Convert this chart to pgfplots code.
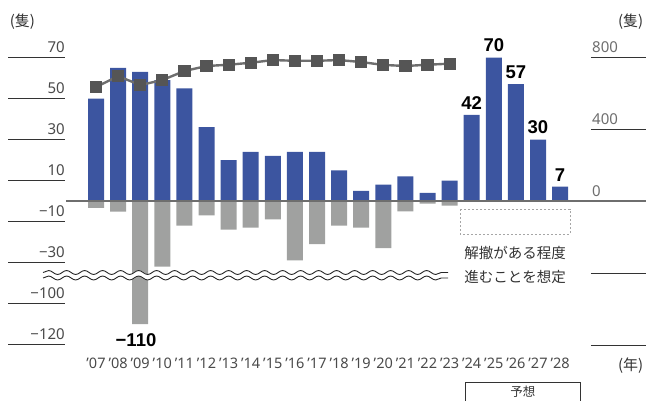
\documentclass[border=0pt]{standalone}
\usepackage{pgfplots}
\pgfplotsset{compat=1.18}
\usepackage{pgfplotstable}
\usepackage{fontspec}
\setmainfont{Noto Sans}
\newfontfamily\cjk{Noto Sans CJK JP}
\newfontfamily\boldnum{Liberation Sans}
\usetikzlibrary{decorations.pathmorphing}

\definecolor{barblue}{HTML}{3C55A0}
\definecolor{bargray}{HTML}{A0A1A0}
\definecolor{mk}{HTML}{555555}
\definecolor{ln}{HTML}{6E6E6E}
\definecolor{txt}{HTML}{333333}
\definecolor{tk}{HTML}{4A4A4A}

\newcommand{\fa}{\fontsize{15}{15}\selectfont}
\newcommand{\fy}{\fontsize{14.5}{14.5}\selectfont}
\newcommand{\fb}{\boldnum\bfseries\fontsize{18.5}{18.5}\selectfont}

\pgfplotstableread{
x v
0 50
1 65
2 63
3 59
4 55
5 36
6 20
7 24
8 22
9 24
10 24
11 15
12 5
13 8
14 12
15 4
16 10
}\blue

\pgfplotstableread{
x v
17 42
18 70
19 57
20 30
21 7
}\fcst

\pgfplotstableread{
x v
0 -3.3
1 -5.2
2 -110
3 -32
4 -12
5 -7
6 -14
7 -13
8 -9
9 -29
10 -21
11 -12
12 -13
13 -23
14 -5
15 -1.3
16 -2.3
}\scrap

\pgfplotstableread{
x v
0 633
1 694
2 644
3 672
4 722
5 750
6 757
7 768
8 783
9 779
10 779
11 783
12 772
13 756
14 750
15 757
16 763
}\fleet

\begin{document}
\begin{tikzpicture}
\begin{axis}[
  at={(0,0)}, anchor=south west,
  scale only axis, width=646pt, height=400pt,
  xmin=-4.344, xmax=24.887, ymin=-97.07, ymax=98.05,
  hide axis, clip=false,
  /pgf/number format/assume math mode=true,
]
\addplot[ybar, bar width=16pt, bar shift=0pt, fill=bargray, draw=none]
  table[x=x, y expr={\thisrow{v} < -40 ? \thisrow{v}+50 : \thisrow{v}}] {\scrap};
\addplot[ybar, bar width=16pt, bar shift=0pt, fill=barblue, draw=none]
  table[x=x, y=v] {\blue};
\addplot[ybar, bar width=16pt, bar shift=0pt, fill=barblue, draw=none,
  nodes near coords, nodes near coords style={font=\fb, text=black, anchor=south, yshift=2pt}]
  table[x=x, y=v] {\fcst};

% zero line
\draw[color=ln, line width=1.3pt] (axis cs:-1.357,0) -- (axis cs:24.887,0);

% left scale lines and labels
\draw[txt, line width=0.9pt] (axis cs:-3.982,70) -- (axis cs:-1.403,70);
\draw[txt, line width=0.9pt] (axis cs:-3.982,50) -- (axis cs:-1.403,50);
\draw[txt, line width=0.9pt] (axis cs:-3.982,30) -- (axis cs:-1.403,30);
\draw[txt, line width=0.9pt] (axis cs:-3.982,10) -- (axis cs:-1.403,10);
\draw[txt, line width=0.9pt] (axis cs:-3.982,-10) -- (axis cs:-1.403,-10);
\draw[txt, line width=0.9pt] (axis cs:-3.982,-30) -- (axis cs:-1.403,-30);
\draw[txt, line width=0.9pt] (axis cs:-3.982,-50) -- (axis cs:-1.403,-50);
\draw[txt, line width=0.9pt] (axis cs:-3.982,-70) -- (axis cs:-1.403,-70);
\node[anchor=base east, yshift=5pt, font=\fa, text=tk, inner sep=0pt] at (axis cs:-1.403,70) {70};
\node[anchor=base east, yshift=5pt, font=\fa, text=tk, inner sep=0pt] at (axis cs:-1.403,50) {50};
\node[anchor=base east, yshift=5pt, font=\fa, text=tk, inner sep=0pt] at (axis cs:-1.403,30) {30};
\node[anchor=base east, yshift=5pt, font=\fa, text=tk, inner sep=0pt] at (axis cs:-1.403,10) {10};
\node[anchor=base east, yshift=5pt, font=\fa, text=tk, inner sep=0pt] at (axis cs:-1.403,-10) {−10};
\node[anchor=base east, yshift=5pt, font=\fa, text=tk, inner sep=0pt] at (axis cs:-1.403,-30) {−30};
\node[anchor=base east, yshift=5pt, font=\fa, text=tk, inner sep=0pt] at (axis cs:-1.403,-50) {−100};
\node[anchor=base east, yshift=5pt, font=\fa, text=tk, inner sep=0pt] at (axis cs:-1.403,-70) {−120};

% axis break
\draw[white, line width=5.5pt, decorate, decoration={snake, amplitude=2pt, segment length=18pt}]
  (axis cs:-2.398,-36.22) -- (axis cs:15.928,-36.22);
\draw[black!85, line width=0.9pt, decorate, decoration={snake, amplitude=2pt, segment length=18pt}]
  (axis cs:-2.398,-34.88) -- (axis cs:15.928,-34.88);
\draw[black!85, line width=0.9pt, decorate, decoration={snake, amplitude=2pt, segment length=18pt}]
  (axis cs:-2.398,-37.56) -- (axis cs:15.928,-37.56);

% -110 label
\node[font=\fb, text=black] at (axis cs:1.81,-67.8) {−110};

% year labels
\node[anchor=base, font=\fy, text=tk, inner sep=0pt] at (axis cs:0,-81.7) {'07};
\node[anchor=base, font=\fy, text=tk, inner sep=0pt] at (axis cs:1,-81.7) {'08};
\node[anchor=base, font=\fy, text=tk, inner sep=0pt] at (axis cs:2,-81.7) {'09};
\node[anchor=base, font=\fy, text=tk, inner sep=0pt] at (axis cs:3,-81.7) {'10};
\node[anchor=base, font=\fy, text=tk, inner sep=0pt] at (axis cs:4,-81.7) {'11};
\node[anchor=base, font=\fy, text=tk, inner sep=0pt] at (axis cs:5,-81.7) {'12};
\node[anchor=base, font=\fy, text=tk, inner sep=0pt] at (axis cs:6,-81.7) {'13};
\node[anchor=base, font=\fy, text=tk, inner sep=0pt] at (axis cs:7,-81.7) {'14};
\node[anchor=base, font=\fy, text=tk, inner sep=0pt] at (axis cs:8,-81.7) {'15};
\node[anchor=base, font=\fy, text=tk, inner sep=0pt] at (axis cs:9,-81.7) {'16};
\node[anchor=base, font=\fy, text=tk, inner sep=0pt] at (axis cs:10,-81.7) {'17};
\node[anchor=base, font=\fy, text=tk, inner sep=0pt] at (axis cs:11,-81.7) {'18};
\node[anchor=base, font=\fy, text=tk, inner sep=0pt] at (axis cs:12,-81.7) {'19};
\node[anchor=base, font=\fy, text=tk, inner sep=0pt] at (axis cs:13,-81.7) {'20};
\node[anchor=base, font=\fy, text=tk, inner sep=0pt] at (axis cs:14,-81.7) {'21};
\node[anchor=base, font=\fy, text=tk, inner sep=0pt] at (axis cs:15,-81.7) {'22};
\node[anchor=base, font=\fy, text=tk, inner sep=0pt] at (axis cs:16,-81.7) {'23};
\node[anchor=base, font=\fy, text=tk, inner sep=0pt] at (axis cs:17,-81.7) {'24};
\node[anchor=base, font=\fy, text=tk, inner sep=0pt] at (axis cs:18,-81.7) {'25};
\node[anchor=base, font=\fy, text=tk, inner sep=0pt] at (axis cs:19,-81.7) {'26};
\node[anchor=base, font=\fy, text=tk, inner sep=0pt] at (axis cs:20,-81.7) {'27};
\node[anchor=base, font=\fy, text=tk, inner sep=0pt] at (axis cs:21,-81.7) {'28};

% units
\node[font=\cjk\fontsize{15}{15}\selectfont, text=txt] at (axis cs:-3.326,87.3) {(隻)};
\node[font=\cjk\fontsize{15}{15}\selectfont, text=txt] at (axis cs:24.19,87.3) {(隻)};
\node[font=\cjk\fontsize{15}{15}\selectfont, text=txt] at (axis cs:24.19,-80.5) {(年)};

% forecast annotation
\draw[black!35, line width=0.7pt, dash pattern=on 2pt off 2pt] (axis cs:16.47,-3.90) rectangle (axis cs:21.45,-16.10);
\node[font=\cjk\fontsize{14.5}{14.5}\selectfont, text=txt] at (axis cs:18.96,-25.37) {解撤がある程度};
\node[font=\cjk\fontsize{14.5}{14.5}\selectfont, text=txt] at (axis cs:18.96,-37.07) {進むことを想定};
\draw[txt, line width=0.8pt] (axis cs:16.70,-100) |- (axis cs:21.90,-88.63) -- (axis cs:21.90,-100);
\node[font=\cjk\fontsize{12.5}{12.5}\selectfont, text=txt] at (axis cs:19.32,-93.17) {予想};
\end{axis}

\begin{axis}[
  at={(0,0)}, anchor=south west,
  scale only axis, width=646pt, height=400pt,
  xmin=-4.344, xmax=24.887, ymin=-1105.6, ymax=1116.7,
  hide axis, clip=false,
]
\draw[txt, line width=0.9pt] (axis cs:22.398,800) -- (axis cs:24.887,800);
\draw[txt, line width=0.9pt] (axis cs:22.398,400) -- (axis cs:24.887,400);
\draw[txt, line width=0.9pt] (axis cs:22.398,-400) -- (axis cs:24.887,-400);
\draw[txt, line width=0.9pt] (axis cs:22.398,-800) -- (axis cs:24.887,-800);
\node[anchor=base west, yshift=5pt, font=\fa, text=tk!80, inner sep=0pt] at (axis cs:22.443,800) {800};
\node[anchor=base west, yshift=5pt, font=\fa, text=tk!80, inner sep=0pt] at (axis cs:22.443,400) {400};
\node[anchor=base west, yshift=4pt, font=\fa, text=tk!80, inner sep=0pt] at (axis cs:22.443,0) {0};
\addplot[color=ln, line width=2.4pt, mark=square*, mark size=5.6pt, mark options={fill=mk, draw=mk, line width=0pt}]
  table[x=x, y=v] {\fleet};
\end{axis}
\pgfresetboundingbox
\useasboundingbox (0,0) rectangle (646pt,400pt);
\end{tikzpicture}
\end{document}
